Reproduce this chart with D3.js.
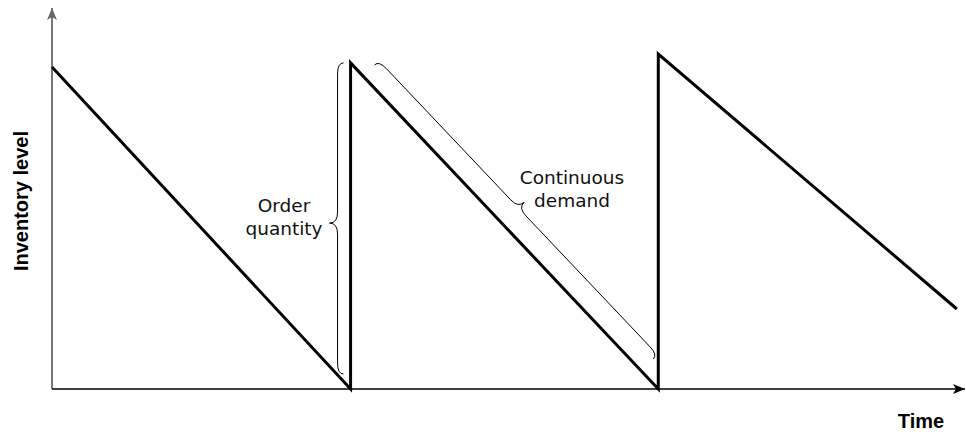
<!DOCTYPE html>
<html>
<head>
<meta charset="utf-8">
<script src="https://cdn.jsdelivr.net/npm/d3@7"></script>
<style>
  body { margin: 0; background: #fff; }
</style>
</head>
<body>
<div id="chart"></div>
<script>
const width = 966;
const height = 435;

// sawtooth: time and inventory level at each corner
const times = [0, 9.8, 9.8, 19.9, 19.9, 29.7];
const levels = [84.5, 0, 85.6, 0, 87.9, 21];

const notes = [
  { lines: ["Order", "quantity"], x: 284, y: 212 },
  { lines: ["Continuous", "demand"], x: 572, y: 184 }
];

let x = d3.scaleLinear()
  .domain([0, 30])
  .range([52, 966]);
let y = d3.scaleLinear()
  .domain([0, 100])
  .range([389, 8]);

let svg = d3.select("#chart")
  .append("svg")
  .attr("width", width)
  .attr("height", height)
  .attr("viewBox", [0, 0, width, height]);

let defs = svg.append("defs");
[["arrow-grey", "#666"], ["arrow-black", "#000"]].forEach(([id, c]) => {
  defs.append("marker")
    .attr("id", id)
    .attr("viewBox", "-13 -6 14 12")
    .attr("refX", 0)
    .attr("refY", 0)
    .attr("markerWidth", 14)
    .attr("markerHeight", 12)
    .attr("markerUnits", "userSpaceOnUse")
    .attr("orient", "auto")
    .append("path")
      .attr("d", "M0,0 L-12,-5 L-9,0 L-12,5 Z")
      .attr("fill", c);
});

// axes
svg.append("line")
  .attr("stroke", "#777")
  .attr("stroke-width", 2)
  .attr("x1", x(0))
  .attr("y1", y(0))
  .attr("x2", x(0))
  .attr("y2", y(100))
  .attr("marker-end", "url(#arrow-grey)");
svg.append("line")
  .attr("stroke", "#000")
  .attr("stroke-width", 1.5)
  .attr("x1", x(0))
  .attr("y1", y(0))
  .attr("x2", x(30) - 1)
  .attr("y2", y(0))
  .attr("marker-end", "url(#arrow-black)");

// inventory sawtooth
let pts = times.map((t, i) => [t, levels[i]]);
svg.append("path")
  .datum(pts)
  .attr("fill", "none")
  .attr("stroke", "#000")
  .attr("stroke-width", 3)
  .attr("stroke-linejoin", "miter")
  .attr("d", d3.line().x(d => x(d[0])).y(d => y(d[1])));

// curly brace from p1 to p2, side = +1/-1, tip at fraction f
function brace(p1, p2, side, f) {
  const dx = p2[0] - p1[0], dy = p2[1] - p1[1];
  const L = Math.hypot(dx, dy);
  const e = [dx / L, dy / L];
  const n = [side * e[1], -side * e[0]];
  const a = 6, w = 14, r = 11, m = L * f;
  const P = (u, v) => (p1[0] + u * e[0] + v * n[0]).toFixed(2) + "," + (p1[1] + u * e[1] + v * n[1]).toFixed(2);
  return "M" + P(0, 0) +
    " Q" + P(0, a) + " " + P(r, a) +
    " L" + P(m - r, a) +
    " Q" + P(m, a) + " " + P(m, w) +
    " Q" + P(m, a) + " " + P(m + r, a) +
    " L" + P(L - r, a) +
    " Q" + P(L, a) + " " + P(L, 0);
}

let braceG = svg.append("g")
  .attr("fill", "none")
  .attr("stroke", "#000")
  .attr("stroke-width", 1);
braceG.append("path")
  .attr("d", brace([x(times[1]) - 7, y(levels[2])], [x(times[1]) - 7, y(0) - 15], -1, 0.515));
braceG.append("path")
  .attr("d", brace([x(times[2]) + 24, y(levels[2]) + 2], [x(times[3]) - 5, y(0) - 30], 1, 0.5));

// annotations
let noteG = svg.append("g")
  .attr("font-family", "'DejaVu Sans', sans-serif")
  .attr("font-size", 18.5)
  .attr("text-anchor", "middle")
  .attr("fill", "#111");
notes.forEach(n => {
  noteG.append("text")
    .attr("x", n.x)
    .attr("y", n.y)
    .selectAll("tspan")
    .data(n.lines)
    .join("tspan")
      .attr("x", n.x)
      .attr("dy", (d, i) => i === 0 ? 0 : 22.5)
      .text(d => d);
});

// axis titles
svg.append("text")
  .attr("font-family", "'Liberation Sans', Arial, sans-serif")
  .attr("font-weight", "bold")
  .attr("font-size", 20)
  .attr("text-anchor", "middle")
  .attr("x", 921)
  .attr("y", 428)
  .text("Time");
svg.append("text")
  .attr("font-family", "'Liberation Sans', Arial, sans-serif")
  .attr("font-weight", "bold")
  .attr("font-size", 20)
  .attr("text-anchor", "middle")
  .attr("transform", "translate(28,201) rotate(-90)")
  .text("Inventory level");
</script>
</body>
</html>
